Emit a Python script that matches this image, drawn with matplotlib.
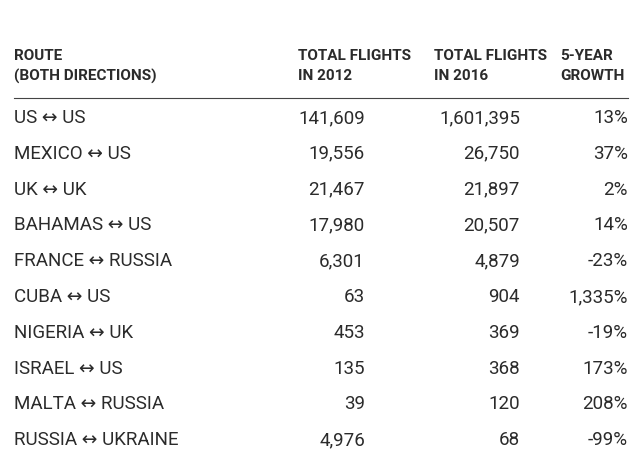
import matplotlib
matplotlib.use("Agg")
import matplotlib.pyplot as plt
from matplotlib import font_manager

routes = ["US ↔ US", "MEXICO ↔ US", "UK ↔ UK", "BAHAMAS ↔ US", "FRANCE ↔ RUSSIA",
          "CUBA ↔ US", "NIGERIA ↔ UK", "ISRAEL ↔ US", "MALTA ↔ RUSSIA", "RUSSIA ↔ UKRAINE"]
flights_2012 = ["141,609", "19,556", "21,467", "17,980", "6,301", "63", "453", "135", "39", "4,976"]
flights_2016 = ["1,601,395", "26,750", "21,897", "20,507", "4,879", "904", "369", "368", "120", "68"]
growth = ["13%", "37%", "2%", "14%", "-23%", "1,335%", "-19%", "173%", "208%", "-99%"]

names = {f.name for f in font_manager.fontManager.ttflist}
fam = ["Liberation Sans Narrow"] if "Liberation Sans Narrow" in names else ["Roboto"]
fam = fam + ["DejaVu Sans"]

W, H = 640, 471
fig = plt.figure(figsize=(W/100, H/100), dpi=100)
fig.patch.set_facecolor("white")
col = "#2b2b2b"

def t(x, y, s, ha="left", **kw):
    fig.text(x/W, 1 - y/H, s, ha=ha, va="center", color=col, family=fam, **kw)

hs = dict(fontsize=11, fontweight="bold")
t(14, 56, "ROUTE", **hs); t(14, 76, "(BOTH DIRECTIONS)", **hs)
t(298, 56, "TOTAL FLIGHTS", **hs); t(298, 76, "IN 2012", **hs)
t(434, 56, "TOTAL FLIGHTS", **hs); t(434, 76, "IN 2016", **hs)
t(560, 56, "5-YEAR", **hs); t(560, 76, "GROWTH", **hs)
fig.add_artist(plt.Line2D([14/W, 628/W], [1-98/H, 1-98/H], color="#444444", lw=0.8))

for i in range(len(routes)):
    y = 118 + i*35.8
    t(14, y, routes[i], fontsize=13.5)
    t(365, y, flights_2012[i], ha="right", fontsize=13.5)
    t(520, y, flights_2016[i], ha="right", fontsize=13.5)
    t(628, y, growth[i], ha="right", fontsize=13.5)

fig.savefig("out.png", dpi=100)
